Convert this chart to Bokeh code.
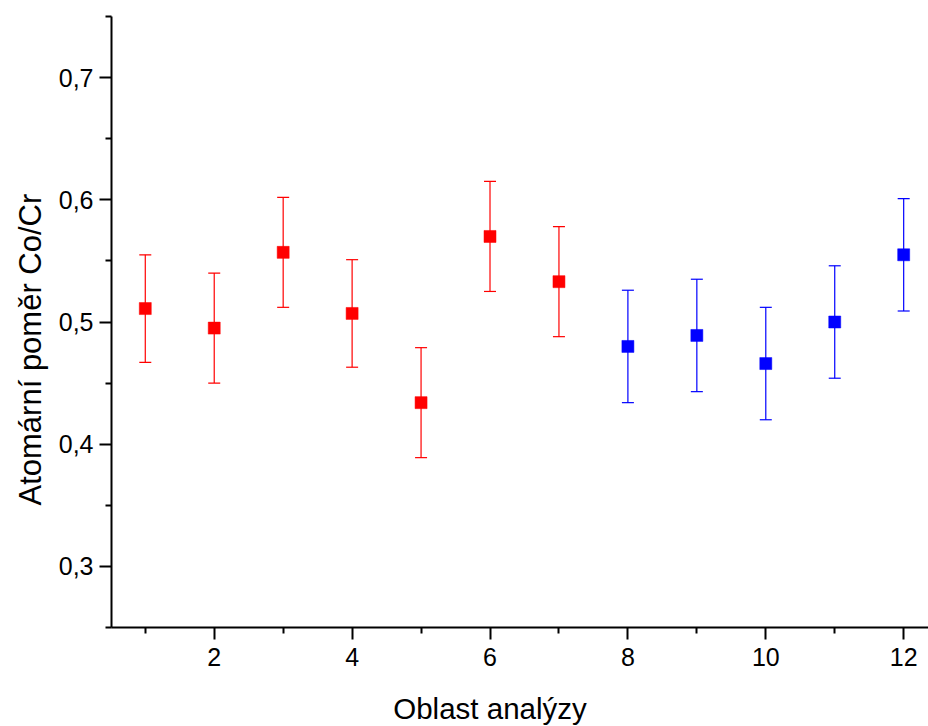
from bokeh.plotting import figure
from bokeh.models import (ColumnDataSource, Whisker, TeeHead, FixedTicker,
                          CustomJSTickFormatter, Range1d, Title)
from bokeh.layouts import column
from bokeh.core.properties import value
from bokeh.embed import file_html
from bokeh.resources import INLINE

# Data
x_red = [1, 2, 3, 4, 5, 6, 7]
y_red = [0.511, 0.495, 0.557, 0.507, 0.434, 0.570, 0.533]
err_red = [0.044, 0.045, 0.045, 0.044, 0.045, 0.045, 0.045]

x_blue = [8, 9, 10, 11, 12]
y_blue = [0.480, 0.489, 0.466, 0.500, 0.555]
err_blue = [0.046, 0.046, 0.046, 0.046, 0.046]

x_major = [2, 4, 6, 8, 10, 12]
x_minor = [1, 3, 5, 7, 9, 11]
y_major = [0.3, 0.4, 0.5, 0.6, 0.7]
y_minor = [0.25, 0.35, 0.45, 0.55, 0.65, 0.75]

x_title = "Oblast analýzy"
x_title_center = 6          # data x under which the x title is centred
y_title = "Atomární poměr Co/Cr"

FONT = "Liberation Sans"

xr = Range1d(0.51, 12.36)
p = figure(width=928, height=687, output_backend="svg", toolbar_location=None,
           x_range=xr, y_range=Range1d(0.25, 0.75),
           min_border_left=111, min_border_right=0, min_border_top=16, min_border_bottom=60)
p.frame_width = 817
p.frame_height = 611
p.outline_line_color = None
p.xgrid.visible = False
p.ygrid.visible = False

def add_series(xs, ys, es, color):
    src = ColumnDataSource(dict(x=xs, y=ys,
                                lo=[a - b for a, b in zip(ys, es)],
                                hi=[a + b for a, b in zip(ys, es)]))
    w = Whisker(base="x", upper="hi", lower="lo", source=src,
                line_color=color, line_width=1.2,
                upper_head=TeeHead(size=12, line_color=color, line_width=1.2),
                lower_head=TeeHead(size=12, line_color=color, line_width=1.2))
    p.add_layout(w)
    p.scatter("x", "y", source=src, marker="square", size=12,
              fill_color=color, line_color=color, line_width=0.5)

add_series(x_red, y_red, err_red, "#ff0000")
add_series(x_blue, y_blue, err_blue, "#0000ff")

fmt = CustomJSTickFormatter(code="return tick.toFixed(1).replace('.', ',');")
p.yaxis.ticker = FixedTicker(ticks=y_major, minor_ticks=y_minor)
p.yaxis.formatter = fmt
p.xaxis.ticker = FixedTicker(ticks=x_major, minor_ticks=x_minor)

for ax in (p.xaxis[0], p.yaxis[0]):
    ax.axis_line_width = 2
    ax.major_tick_line_width = 2
    ax.minor_tick_line_width = 2
    ax.major_tick_out = 12
    ax.major_tick_in = 0
    ax.minor_tick_out = 6
    ax.minor_tick_in = 0
    ax.major_label_text_font = FONT
    ax.major_label_text_font_size = "25px"
    ax.major_label_text_color = "black"

p.yaxis.major_label_standoff = 6
p.xaxis.major_label_standoff = 8

# y title
p.add_layout(Title(text=y_title, align="left", offset=122, vertical_align="bottom",
                   standoff=16, text_font=FONT, text_font_size="31px",
                   text_font_style="normal", text_color="black"), "left")

# x title in a thin strip below, sharing the x range
p2 = figure(width=928, height=39, output_backend="svg", toolbar_location=None,
            x_range=xr, y_range=Range1d(0, 1),
            min_border_left=111, min_border_right=0, min_border_top=0, min_border_bottom=0)
p2.frame_width = 817
p2.frame_height = 39
p2.axis.visible = False
p2.grid.visible = False
p2.outline_line_color = None
p2.text(x=[x_title_center], y=[0.45], text=[x_title], text_align="center",
        text_baseline="middle",
        text_font=value(FONT), text_font_size="29.5px", text_color="black")

open("out.html", "w").write(file_html(column(p, p2, spacing=0), INLINE))
